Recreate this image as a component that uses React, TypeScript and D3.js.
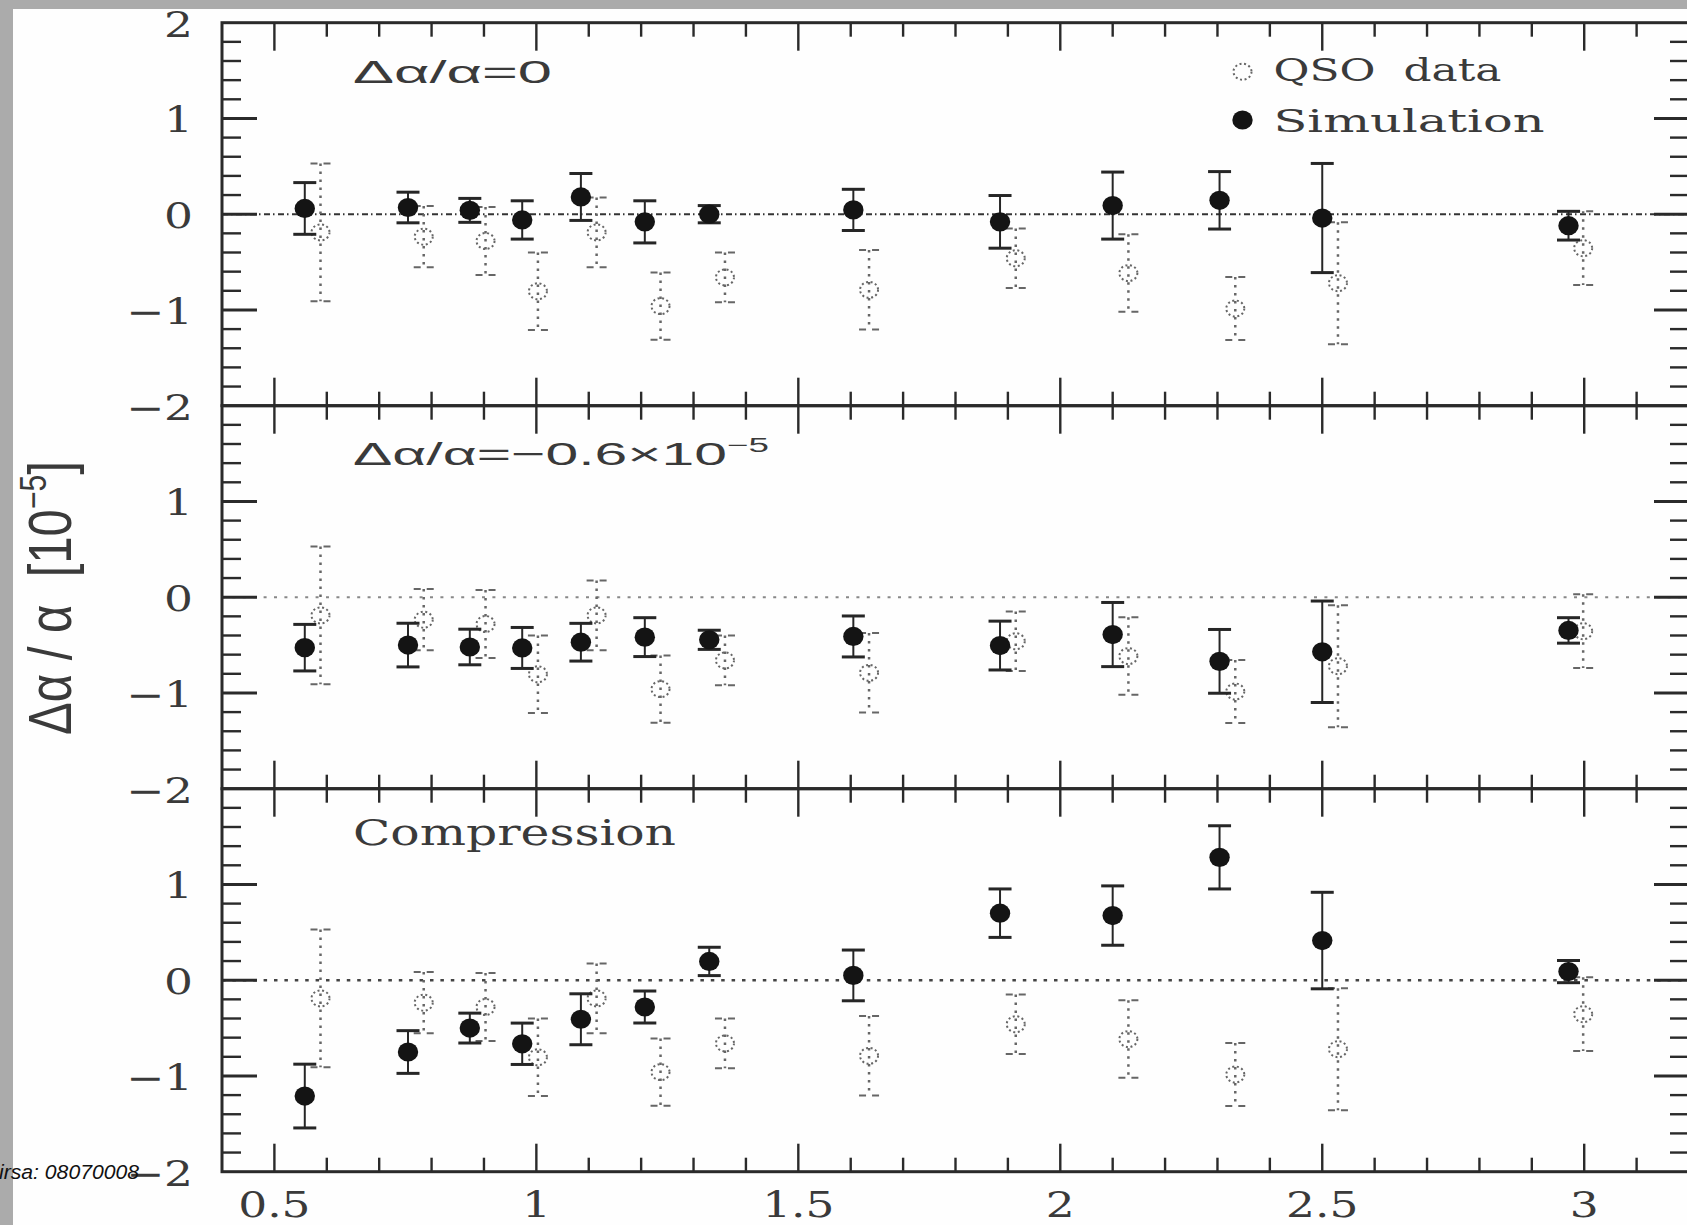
import React from "react";
import * as d3 from "d3";

// Redshift of each QSO absorber bin and the measured Δα/α (units of 1e-5)
const qsoZ = [0.588, 0.785, 0.903, 1.003, 1.115, 1.237, 1.36, 1.635, 1.915, 2.13, 2.334, 2.53, 2.998];
const qsoValue = [-0.19, -0.235, -0.28, -0.805, -0.19, -0.96, -0.66, -0.79, -0.46, -0.615, -0.985, -0.72, -0.355];
const qsoError = [0.72, 0.32, 0.355, 0.405, 0.365, 0.35, 0.26, 0.415, 0.31, 0.405, 0.33, 0.637, 0.385];

// Simulation bins (plotted slightly left of the QSO bins)
const simZ = [0.558, 0.755, 0.873, 0.973, 1.085, 1.207, 1.33, 1.605, 1.885, 2.1, 2.304, 2.5, 2.97];

// Simulation with no variation
const simNullValue = [0.06, 0.07, 0.04, -0.06, 0.18, -0.08, 0.0, 0.045, -0.08, 0.09, 0.145, -0.04, -0.12];
const simNullError = [0.27, 0.16, 0.125, 0.2, 0.245, 0.22, 0.09, 0.215, 0.275, 0.35, 0.3, 0.57, 0.15];

// Simulation with an imposed shift of -0.6e-5
const simShiftValue = [-0.527, -0.5, -0.52, -0.53, -0.47, -0.417, -0.445, -0.41, -0.505, -0.39, -0.67, -0.57, -0.347];
const simShiftError = [0.243, 0.228, 0.186, 0.214, 0.197, 0.203, 0.1, 0.214, 0.255, 0.335, 0.333, 0.53, 0.133];

// Simulation with wavelength-scale compression
const simCompValue = [-1.21, -0.75, -0.5, -0.664, -0.408, -0.28, 0.196, 0.05, 0.7, 0.675, 1.283, 0.414, 0.09];
const simCompError = [0.333, 0.223, 0.156, 0.216, 0.266, 0.167, 0.148, 0.265, 0.253, 0.31, 0.33, 0.504, 0.116];

const xTickValues = [0.5, 1, 1.5, 2, 2.5, 3];
const xTickLabels = ["0.5", "1", "1.5", "2", "2.5", "3"];
const yTickValues = [2, 1, 0, -1, -2];
const yTickLabels = ["2", "1", "0", "−1", "−2"];

const W = 1687;
const H = 1225;
const FRAME_L = 222;
const FRAME_R = 1689;
const PANEL_TOPS = [22.7, 405.7, 788.7];
const PH = 383;
const INK = "#2a2a2a";
const QSO_INK = "#666";
const TEXT_INK = "#3a3a3a";
const TICK_FONT = 35;
const TICK_SX = 1.3;

const xScale = d3.scaleLinear().domain([0.4, 3.2]).range([FRAME_L, FRAME_R]);
const yScaleFor = (top: number) => d3.scaleLinear().domain([-2, 2]).range([top + PH, top]);

const xMinorIdx = d3.range(5, 32); // tenths: 0.5 .. 3.1
const yMinorIdx = d3.range(-9, 10); // fifths: -1.8 .. 1.8

function QsoMarker({ cx, cy }: { cx: number; cy: number }) {
  return (
    <ellipse cx={cx} cy={cy} rx={9} ry={8} fill="none" stroke={QSO_INK}
      strokeWidth={2} strokeDasharray="2,2.6" />
  );
}

function SimMarker({ cx, cy }: { cx: number; cy: number }) {
  return <ellipse cx={cx} cy={cy} rx={10.2} ry={9.6} fill="#141414" />;
}

type PanelProps = {
  top: number;
  values: number[];
  errors: number[];
  zeroDash: string;
  zeroColor: string;
  zeroWidth: number;
};

function Panel({ top, values, errors, zeroDash, zeroColor, zeroWidth }: PanelProps) {
  const y = yScaleFor(top);
  return (
    <g>
      <line x1={FRAME_L} x2={FRAME_R} y1={y(0)} y2={y(0)} stroke={zeroColor}
        strokeWidth={zeroWidth} strokeDasharray={zeroDash} />

      {xMinorIdx.map((i) => {
        const v = i / 10;
        const len = i % 5 === 0 ? 28 : 14;
        const px = xScale(v);
        return (
          <g key={"x" + i} stroke={INK} strokeWidth={2.4}>
            <line x1={px} x2={px} y1={top} y2={top + len} />
            <line x1={px} x2={px} y1={top + PH} y2={top + PH - len} />
          </g>
        );
      })}

      {yMinorIdx.map((i) => {
        const v = i / 5;
        const major = i % 5 === 0;
        const len = major ? 35 : 19;
        const py = y(v);
        return (
          <g key={"y" + i} stroke={INK} strokeWidth={major ? 3 : 2.4}>
            <line x1={FRAME_L} x2={FRAME_L + len} y1={py} y2={py} />
            <line x1={FRAME_R} x2={FRAME_R - len} y1={py} y2={py} />
          </g>
        );
      })}

      <rect x={FRAME_L} y={top} width={FRAME_R - FRAME_L} height={PH} fill="none"
        stroke={INK} strokeWidth={3} />

      {qsoZ.map((z, i) => {
        const cx = xScale(z);
        const hi = y(qsoValue[i] + qsoError[i]);
        const lo = y(qsoValue[i] - qsoError[i]);
        return (
          <g key={"q" + i}>
            <line x1={cx} x2={cx} y1={hi} y2={lo} stroke={QSO_INK} strokeWidth={2.5}
              strokeDasharray="2.5,5.5" />
            <line x1={cx - 10} x2={cx + 10} y1={hi} y2={hi} stroke={QSO_INK} strokeWidth={2}
              strokeDasharray="7,6" />
            <line x1={cx - 10} x2={cx + 10} y1={lo} y2={lo} stroke={QSO_INK} strokeWidth={2}
              strokeDasharray="7,6" />
            <QsoMarker cx={cx} cy={y(qsoValue[i])} />
          </g>
        );
      })}

      {simZ.map((z, i) => {
        const cx = xScale(z);
        const hi = y(values[i] + errors[i]);
        const lo = y(values[i] - errors[i]);
        return (
          <g key={"s" + i}>
            <line x1={cx} x2={cx} y1={hi} y2={lo} stroke="#262626" strokeWidth={2} />
            <line x1={cx - 11.5} x2={cx + 11.5} y1={hi} y2={hi} stroke="#262626" strokeWidth={3} />
            <line x1={cx - 11.5} x2={cx + 11.5} y1={lo} y2={lo} stroke="#262626" strokeWidth={3} />
            <SimMarker cx={cx} cy={y(values[i])} />
          </g>
        );
      })}
    </g>
  );
}

export default function App() {
  const panelValues = [simNullValue, simShiftValue, simCompValue];
  const panelErrors = [simNullError, simShiftError, simCompError];
  const zeroDash = ["6,3,1.5,3.5", "3,7.4", "3.5,6.9"];
  const zeroColor = ["#333", "#888", "#444"];
  const zeroWidth = [2, 2, 2.4];

  return (
    <svg width={W} height={H} viewBox={`0 0 ${W} ${H}`}
      style={{ position: "absolute", left: 0, top: 0, display: "block", background: "#fff" }}>
      <rect x={0} y={0} width={W} height={H} fill="#fefefe" />

      {PANEL_TOPS.map((top, p) => (
        <Panel key={p} top={top} values={panelValues[p]} errors={panelErrors[p]}
          zeroDash={zeroDash[p]} zeroColor={zeroColor[p]} zeroWidth={zeroWidth[p]} />
      ))}

      {/* y tick labels: the top value is only written on the first panel */}
      {PANEL_TOPS.map((top, p) => {
        const y = yScaleFor(top);
        return yTickValues.map((v, k) =>
          p > 0 && k === 0 ? null : (
            <text key={`yl${p}-${k}`}
              transform={`translate(193,${y(v) + 14}) scale(${TICK_SX},1)`}
              textAnchor="end" fontFamily="DejaVu Serif" fontSize={TICK_FONT} fill={TEXT_INK}>
              {yTickLabels[k]}
            </text>
          )
        );
      })}

      {/* x tick labels */}
      {xTickValues.map((v, k) => (
        <text key={"xl" + k} transform={`translate(${xScale(v)},1217) scale(${TICK_SX},1)`}
          textAnchor="middle" fontFamily="DejaVu Serif" fontSize={TICK_FONT} fill={TEXT_INK}>
          {xTickLabels[k]}
        </text>
      ))}

      {/* panel captions */}
      <text x={353} y={83} fontFamily="Liberation Sans" fontSize={32} fill={TEXT_INK}
        textLength={199} lengthAdjust="spacingAndGlyphs">Δα/α=0</text>
      <text x={353} y={465} fontFamily="Liberation Sans" fontSize={32} fill={TEXT_INK}
        textLength={416} lengthAdjust="spacingAndGlyphs">
        Δα/α=−0.6×10<tspan fontSize={20} dy={-13}>−5</tspan>
      </text>
      <text x={353} y={845} fontFamily="DejaVu Serif" fontSize={35} fill={TEXT_INK}
        textLength={323} lengthAdjust="spacingAndGlyphs">Compression</text>

      {/* legend */}
      <QsoMarker cx={1242.5} cy={71.7} />
      <text x={1273.5} y={81} fontFamily="DejaVu Serif" fontSize={32} fill={TEXT_INK}
        textLength={228} lengthAdjust="spacingAndGlyphs" style={{ whiteSpace: "pre" }}>
        {"QSO  data"}
      </text>
      <SimMarker cx={1242.5} cy={120} />
      <text x={1273.5} y={132} fontFamily="DejaVu Serif" fontSize={32} fill={TEXT_INK}
        textLength={271} lengthAdjust="spacingAndGlyphs">Simulation</text>

      {/* y-axis title */}
      <text transform="translate(71,735) scale(1.55,1) rotate(-90)" fontFamily="Liberation Sans"
        fontSize={39} fill={TEXT_INK} textLength={274} lengthAdjust="spacingAndGlyphs"
        style={{ whiteSpace: "pre" }}>
        {"Δα / α  [10"}
        <tspan fontSize={24} dy={-16}>−5</tspan>
        <tspan dy={16}>]</tspan>
      </text>

      {/* grey page border */}
      <rect x={0} y={0} width={W} height={9} fill="#ababab" />
      <rect x={0} y={0} width={13} height={H} fill="#ababab" />

      <text x={-1} y={1179} fontFamily="Liberation Sans" fontStyle="italic" fontSize={20}
        fill="#111" textLength={140} lengthAdjust="spacingAndGlyphs">irsa: 08070008</text>
    </svg>
  );
}
